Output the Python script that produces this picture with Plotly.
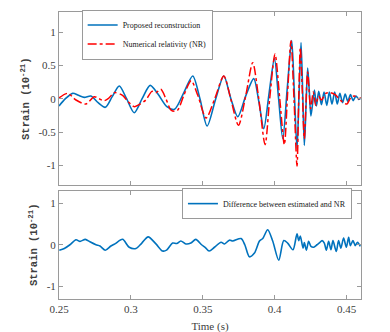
import plotly.graph_objects as go

# top panel: reconstruction vs numerical relativity (strain in 1e-21)
t_rec = [0.2500, 0.2545, 0.2595, 0.2635, 0.2676, 0.2722, 0.2772, 0.2822, 0.2870, 0.2919,
         0.2970, 0.3023, 0.3078, 0.3134, 0.3188, 0.3250, 0.3303, 0.3370, 0.3430, 0.3480,
         0.3530, 0.3590, 0.3646, 0.3695, 0.3743, 0.3800, 0.3854, 0.3890, 0.3924, 0.3962,
         0.3998, 0.4027, 0.4056, 0.4087, 0.4118, 0.4137, 0.4155, 0.4169, 0.4183, 0.4195,
         0.4206, 0.4218, 0.4229, 0.4241, 0.4252, 0.4276, 0.4290, 0.4306, 0.4325, 0.4343,
         0.4362, 0.4380, 0.4398, 0.4417, 0.4435, 0.4453, 0.4472, 0.4490, 0.4508, 0.4527,
         0.4545, 0.4565, 0.4585, 0.4600]
h_rec = [-0.11, 0.00, 0.08, 0.05, 0.02, 0.04, -0.06, -0.13, 0.03, 0.19,
         0.00, -0.21, 0.00, 0.20, 0.07, -0.12, -0.16, 0.10, 0.34, 0.00,
         -0.41, 0.00, 0.34, 0.00, -0.27, 0.05, 0.30, -0.05, -0.45, 0.10,
         0.60, 0.00, -0.60, 0.15, 0.87, 0.05, -0.75, 0.05, 0.84, 0.05,
         -0.70, -0.10, 0.46, 0.10, -0.26, 0.13, -0.11, 0.11, -0.09, 0.10,
         -0.10, 0.10, -0.08, 0.10, -0.08, 0.08, -0.06, 0.07, -0.04, 0.06,
         -0.03, 0.04, -0.01, 0.01]

t_nr = [0.2500, 0.2560, 0.2618, 0.2688, 0.2745, 0.2778, 0.2815, 0.2847, 0.2884, 0.2942,
        0.2979, 0.3023, 0.3056, 0.3104, 0.3146, 0.3174, 0.3208, 0.3243, 0.3278, 0.3303,
        0.3326, 0.3368, 0.3419, 0.3465, 0.3523, 0.3583, 0.3646, 0.3694, 0.3748, 0.3799,
        0.3847, 0.3889, 0.3933, 0.3965, 0.4002, 0.4035, 0.4067, 0.4090, 0.4113, 0.4134,
        0.4155, 0.4167, 0.4178, 0.4192, 0.4206, 0.4229, 0.4250, 0.4268, 0.4285, 0.4305,
        0.4325, 0.4355, 0.4385, 0.4420, 0.4460, 0.4502, 0.4530, 0.4555, 0.4580, 0.4600]
h_nr = [0.01, 0.08, -0.02, -0.08, 0.03, 0.00, -0.03, 0.01, 0.09, 0.05,
        -0.04, -0.12, -0.09, -0.02, 0.11, 0.09, 0.14, 0.00, -0.17, -0.19,
        -0.17, 0.05, 0.27, 0.05, -0.29, 0.00, 0.34, 0.00, -0.40, 0.05,
        0.54, 0.00, -0.69, 0.00, 0.67, 0.00, -0.69, 0.10, 0.87, 0.00,
        -1.01, 0.00, 0.77, 0.10, -0.60, 0.40, -0.15, 0.10, -0.10, 0.04,
        -0.02, 0.08, 0.09, 0.06, -0.03, -0.08, 0.02, 0.04, 0.00, 0.01]

# bottom panel: difference
t_diff = [0.2502, 0.2537, 0.2576, 0.2618, 0.2646, 0.2683, 0.2715, 0.2757, 0.2785, 0.2822,
          0.2861, 0.2889, 0.2942, 0.2988, 0.3035, 0.3076, 0.3120, 0.3174, 0.3220, 0.3248,
          0.3290, 0.3319, 0.3347, 0.3382, 0.3417, 0.3451, 0.3491, 0.3516, 0.3544, 0.3581,
          0.3627, 0.3651, 0.3685, 0.3708, 0.3766, 0.3792, 0.3824, 0.3859, 0.3894, 0.3917,
          0.3951, 0.3986, 0.4028, 0.4063, 0.4090, 0.4127, 0.4155, 0.4167, 0.4178, 0.4197,
          0.4206, 0.4220, 0.4236, 0.4252, 0.4271, 0.4294, 0.4313, 0.4329, 0.4345, 0.4359,
          0.4375, 0.4391, 0.4405, 0.4428, 0.4444, 0.4460, 0.4479, 0.4498, 0.4514, 0.4526,
          0.4544, 0.4560, 0.4576, 0.4595]
h_diff = [-0.13, -0.09, 0.00, 0.12, 0.08, 0.13, 0.07, 0.00, -0.03, -0.13,
          -0.03, 0.02, 0.13, -0.06, -0.09, 0.04, 0.19, 0.02, -0.15, -0.13,
          0.04, 0.03, 0.09, 0.02, 0.04, 0.13, 0.00, -0.06, -0.15, -0.06,
          0.06, 0.02, 0.11, 0.09, 0.15, 0.00, -0.29, -0.20, 0.09, 0.15,
          0.36, 0.09, -0.37, 0.10, 0.04, -0.12, 0.26, 0.10, 0.21, -0.08,
          0.05, -0.13, 0.08, -0.04, -0.06, 0.00, 0.05, 0.10, 0.04, -0.13,
          0.08, -0.12, 0.10, -0.16, 0.10, -0.08, 0.16, -0.06, 0.18, -0.02,
          0.10, -0.02, 0.06, -0.04]

x_ticks = [0.25, 0.3, 0.35, 0.4, 0.45]
x_labels = ["0.25", "0.3", "0.35", "0.4", "0.45"]
top_ticks = [-1, -0.5, 0, 0.5, 1]
top_labels = ["-1", "-0.5", "0", "0.5", "1"]
bot_ticks = [-1, 0, 1]
bot_labels = ["-1", "0", "1"]

BLUE = "#0072BD"
FRAME = "#9a9a9a"
SERIF = "Liberation Serif"

fig = go.Figure()

fig.add_trace(go.Scatter(
    x=t_rec, y=h_rec, mode="lines", name="Proposed reconstruction",
    line=dict(color=BLUE, width=1.6, shape="spline", smoothing=0.8),
    xaxis="x", yaxis="y", legend="legend",
))
fig.add_trace(go.Scatter(
    x=t_nr, y=h_nr, mode="lines", name="Numerical relativity (NR)",
    line=dict(color="#ff0000", width=1.5, dash="dashdot", shape="spline", smoothing=0.8),
    xaxis="x", yaxis="y", legend="legend",
))
fig.add_trace(go.Scatter(
    x=t_diff, y=h_diff, mode="lines", name="Difference between estimated and NR",
    line=dict(color=BLUE, width=1.6, shape="spline", smoothing=0.8),
    xaxis="x2", yaxis="y2", legend="legend2",
))

axis_common = dict(
    showline=True, linecolor=FRAME, linewidth=1, mirror="ticks",
    ticks="inside", ticklen=4, tickcolor=FRAME,
    showgrid=False, zeroline=False,
    tickfont=dict(family=SERIF, size=11, color="#404040"),
)
ylabel = dict(
    text="<b>Strain (10<sup>-21</sup>)</b>",
    font=dict(family="Liberation Mono", size=10.5, color="#404040"),
    standoff=6,
)
legend_common = dict(
    bgcolor="white", bordercolor=FRAME, borderwidth=1,
    font=dict(family=SERIF, size=8, color="#202020"),
    itemwidth=30, tracegroupgap=0,
    xref="paper", yref="paper", yanchor="top",
)

fig.update_layout(
    width=390, height=332,
    margin=dict(l=51, r=37, t=3, b=41),
    plot_bgcolor="white", paper_bgcolor="white",
    font=dict(family=SERIF),
    xaxis=dict(domain=[0, 1], range=[0.25, 0.46], anchor="y",
               tickvals=x_ticks, showticklabels=False, **axis_common),
    yaxis=dict(domain=[0.396, 1], range=[-1.3, 1.3], anchor="x",
               tickvals=top_ticks, ticktext=top_labels, title=ylabel, **axis_common),
    xaxis2=dict(domain=[0, 1], range=[0.25, 0.46], anchor="y2",
                tickvals=x_ticks, ticktext=x_labels,
                title=dict(text="Time (s)", font=dict(family=SERIF, size=11, color="#404040"),
                           standoff=8),
                **axis_common),
    yaxis2=dict(domain=[0, 0.378], range=[-1.3, 1.3], anchor="x2",
                tickvals=bot_ticks, ticktext=bot_labels, title=ylabel, **axis_common),
    legend=dict(x=0.075, y=1.005, xanchor="left", **legend_common),
    legend2=dict(x=0.97, y=0.385, xanchor="right", **legend_common),
)

fig.write_html("out.html")
